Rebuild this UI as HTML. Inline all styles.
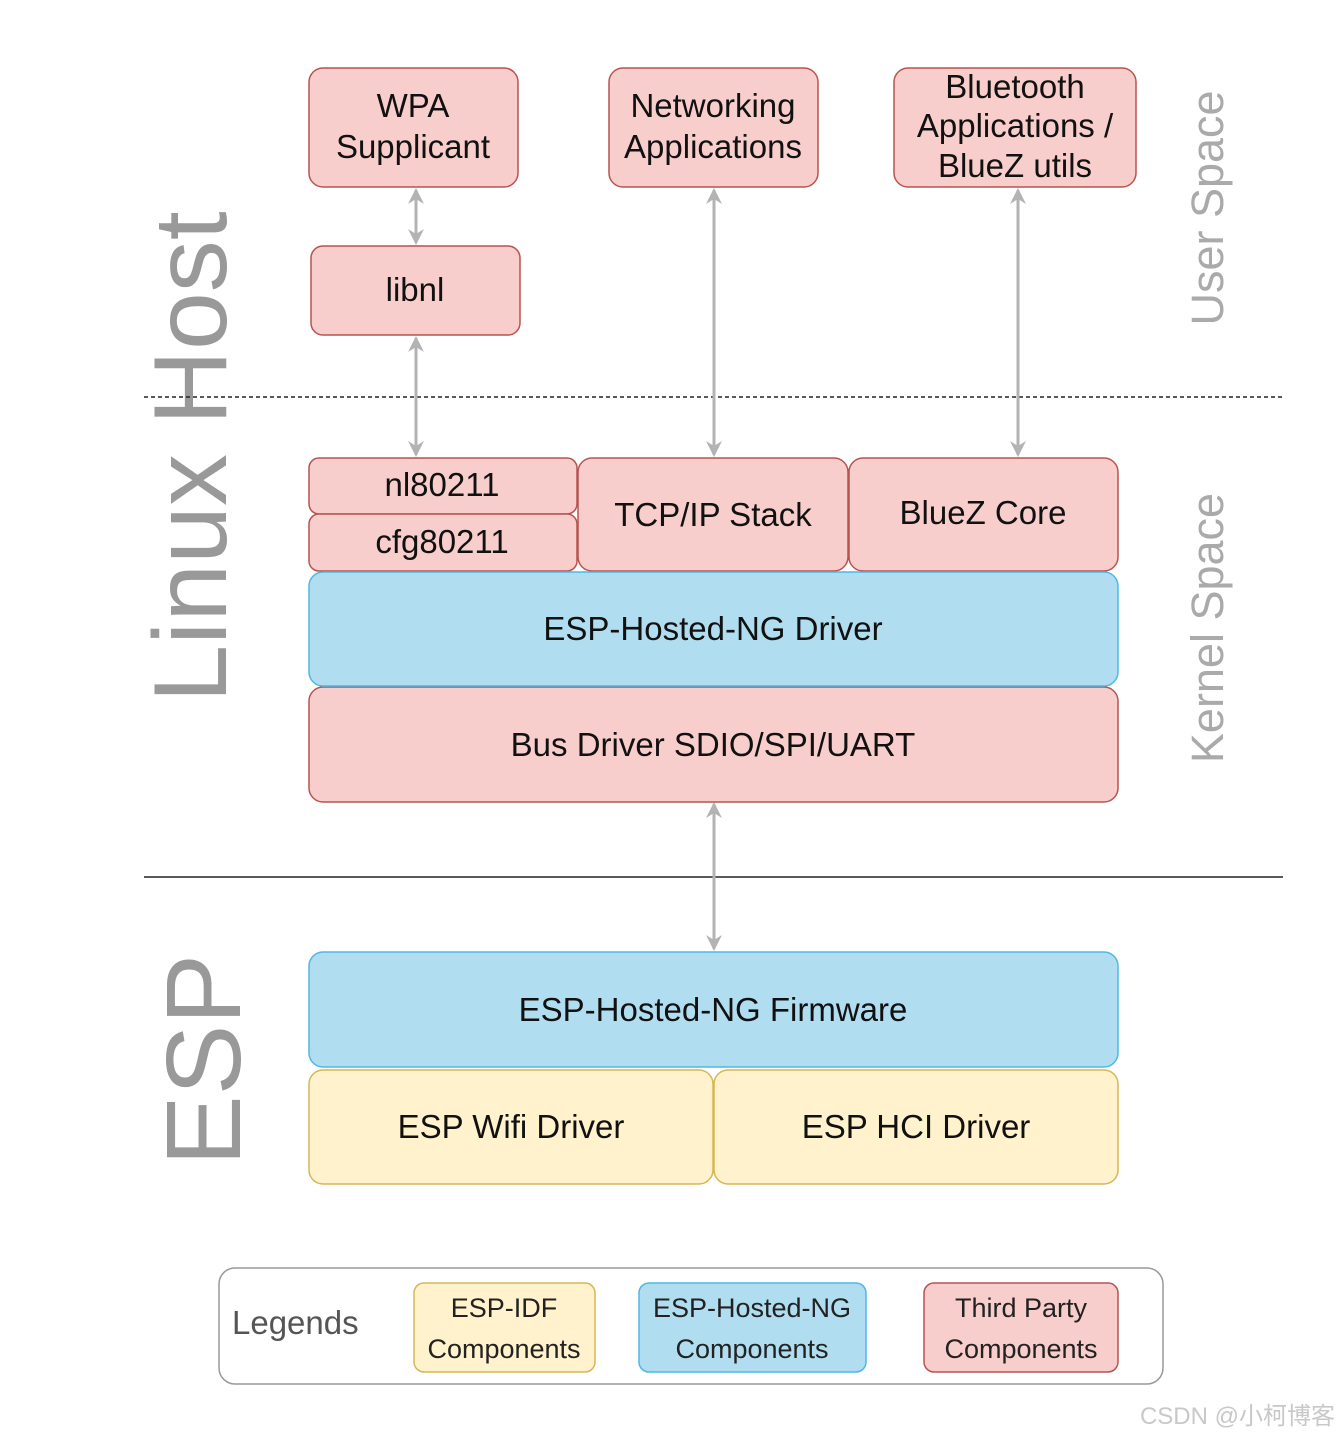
<!DOCTYPE html>
<html><head><meta charset="utf-8"><style>
html,body{margin:0;padding:0;background:#fff;}
svg{display:block;}
text{font-family:"Liberation Sans","Noto Sans CJK SC",sans-serif;}
</style></head><body>
<svg width="1339" height="1438" viewBox="0 0 1339 1438" xmlns="http://www.w3.org/2000/svg">
<defs>
<marker id="ah" viewBox="0 0 20 20" refX="14" refY="10" markerWidth="20" markerHeight="20" markerUnits="userSpaceOnUse" orient="auto-start-reverse">
<path d="M0,2 L16,10 L0,18 L5,10 Z" fill="#b3b3b3"/>
</marker>
</defs>
<g fill="#999">
<text transform="translate(226,457) rotate(-90)" text-anchor="middle" font-size="104">Linux Host</text>
<text transform="translate(240,1060) rotate(-90)" text-anchor="middle" font-size="106">ESP</text>
</g>
<g fill="#aaa" font-size="45">
<text transform="translate(1223,208) rotate(-90)" text-anchor="middle">User Space</text>
<text transform="translate(1223,628) rotate(-90)" text-anchor="middle">Kernel Space</text>
</g>
<line x1="144" y1="397" x2="1283" y2="397" stroke="#222" stroke-width="1.5" stroke-dasharray="4,3"/>
<line x1="144" y1="877" x2="1283" y2="877" stroke="#222" stroke-width="1.5"/>
<g stroke="#b3b3b3" stroke-width="3" marker-start="url(#ah)" marker-end="url(#ah)">
<line x1="416" y1="190" x2="416" y2="243"/>
<line x1="416" y1="338" x2="416" y2="455"/>
<line x1="714" y1="190" x2="714" y2="455"/>
<line x1="1018" y1="190" x2="1018" y2="455"/>
<line x1="714" y1="804" x2="714" y2="949"/>
</g>
<g stroke-width="1.5">
<g fill="#f8cecc" stroke="#b85450">
<rect x="309" y="68" width="209" height="119" rx="14"/>
<rect x="609" y="68" width="209" height="119" rx="14"/>
<rect x="894" y="68" width="242" height="119" rx="14"/>
<rect x="311" y="246" width="209" height="89" rx="12"/>
<rect x="309" y="458" width="268" height="56" rx="10"/>
<rect x="309" y="514" width="268" height="57" rx="10"/>
<rect x="578" y="458" width="270" height="113" rx="14"/>
<rect x="849" y="458" width="269" height="113" rx="14"/>
<rect x="309" y="687" width="809" height="115" rx="14"/>
<rect x="924" y="1283" width="194" height="89" rx="10"/>
</g>
<g fill="#b1ddf0" stroke="#4db8e6">
<rect x="309" y="572" width="809" height="114" rx="14"/>
<rect x="309" y="952" width="809" height="115" rx="14"/>
<rect x="639" y="1283" width="227" height="89" rx="10"/>
</g>
<g fill="#fff2cc" stroke="#d6b656">
<rect x="309" y="1070" width="404" height="114" rx="14"/>
<rect x="714" y="1070" width="404" height="114" rx="14"/>
<rect x="414" y="1283" width="181" height="89" rx="10"/>
</g>
<rect x="219" y="1268" width="944" height="116" rx="16" fill="none" stroke="#999"/>
</g>
<g font-size="33" fill="#111" text-anchor="middle">
<text x="413" y="117">WPA</text><text x="413" y="158">Supplicant</text>
<text x="713" y="117">Networking</text><text x="713" y="158">Applications</text>
<text x="1015" y="98">Bluetooth</text><text x="1015" y="137">Applications /</text><text x="1015" y="177">BlueZ utils</text>
<text x="415" y="301">libnl</text>
<text x="442" y="496">nl80211</text>
<text x="442" y="553">cfg80211</text>
<text x="713" y="526">TCP/IP Stack</text>
<text x="983" y="524">BlueZ Core</text>
<text x="713" y="640">ESP-Hosted-NG Driver</text>
<text x="713" y="756">Bus Driver SDIO/SPI/UART</text>
<text x="713" y="1021">ESP-Hosted-NG Firmware</text>
<text x="511" y="1138">ESP Wifi Driver</text>
<text x="916" y="1138">ESP HCI Driver</text>
</g>
<g font-size="27" fill="#222" text-anchor="middle">
<text x="504" y="1317">ESP-IDF</text><text x="504" y="1358">Components</text>
<text x="752" y="1317">ESP-Hosted-NG</text><text x="752" y="1358">Components</text>
<text x="1021" y="1317">Third Party</text><text x="1021" y="1358">Components</text>
</g>
<text x="232" y="1334" font-size="33" fill="#555">Legends</text>
<text x="1335" y="1424" font-size="24" fill="#c8c8c8" text-anchor="end">CSDN @小柯博客</text>
</svg>
</body></html>
